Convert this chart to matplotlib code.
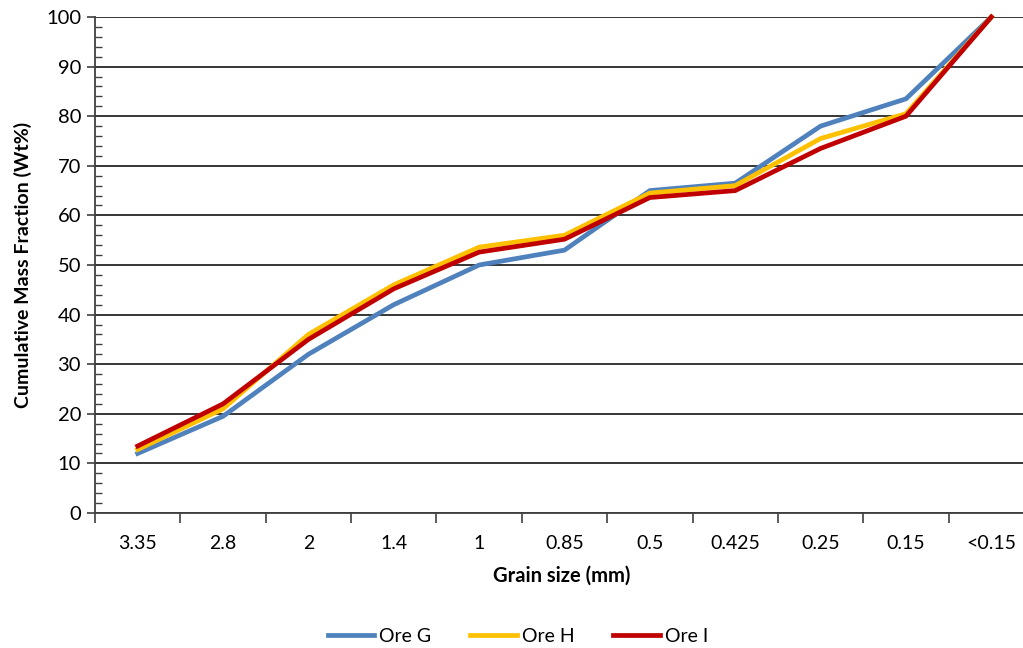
import matplotlib
matplotlib.use("Agg")
import matplotlib.pyplot as plt
from matplotlib.ticker import MultipleLocator, FixedLocator, NullFormatter

plt.rcParams['font.family'] = ['Lato', 'DejaVu Sans']

grain_sizes = ["3.35", "2.8", "2", "1.4", "1", "0.85", "0.5", "0.425", "0.25", "0.15", "<0.15"]
ore_g = [12.0, 19.5, 32.0, 42.0, 50.0, 53.0, 65.0, 66.5, 78.0, 83.5, 100.0]
ore_h = [12.8, 21.0, 36.0, 46.0, 53.6, 56.0, 64.5, 66.0, 75.5, 80.5, 100.0]
ore_i = [13.5, 22.0, 35.0, 45.2, 52.6, 55.2, 63.6, 65.0, 73.5, 80.0, 100.0]

series = [("Ore G", ore_g, "#4F81BD"),
          ("Ore H", ore_h, "#FFC000"),
          ("Ore I", ore_i, "#C00000")]

W, H = 1023, 648
fig = plt.figure(figsize=(W / 100, H / 100), dpi=100)
left, right, top, bottom = 95, 1034, 17, 513
ax = fig.add_axes([left / W, 1 - bottom / H, (right - left) / W, (bottom - top) / H])

x = list(range(len(grain_sizes)))
for name, vals, col in series:
    ax.plot(x, vals, color=col, lw=3.4, label=name, solid_joinstyle='miter', clip_on=False, zorder=3)

ax.set_xlim(-0.5, len(grain_sizes) - 0.5)
ax.set_ylim(0, 100)

# y axis: majors every 10 with outward ticks, minors every 2 inward
ax.yaxis.set_major_locator(MultipleLocator(10))
ax.yaxis.set_minor_locator(MultipleLocator(2))
ax.tick_params(axis='y', which='major', direction='out', length=6, width=1.2, color='#404040',
               labelsize=14.5, pad=4)
ax.tick_params(axis='y', which='minor', direction='in', length=5, width=1.0, color='#404040')
ax.grid(axis='y', which='major', color='#262626', lw=1.3, zorder=1)

# x axis: category labels centred in bins, ticks at bin boundaries
ax.xaxis.set_major_locator(FixedLocator(x))
ax.set_xticklabels(grain_sizes)
ax.tick_params(axis='x', which='major', length=0, labelsize=14, pad=16)
ax.xaxis.set_minor_locator(FixedLocator([i - 0.5 for i in range(len(grain_sizes) + 1)]))
ax.xaxis.set_minor_formatter(NullFormatter())
ax.tick_params(axis='x', which='minor', direction='out', length=7, width=1.2, color='#404040')

for s in ['top', 'right']:
    ax.spines[s].set_visible(False)
for s in ['left', 'bottom']:
    ax.spines[s].set_color('#404040')
    ax.spines[s].set_linewidth(1.3)

ax.set_ylabel("Cumulative Mass Fraction (Wt%)", fontsize=14, fontweight='bold', labelpad=10)
fig.text(562 / W, 1 - 576 / H, "Grain size (mm)", fontsize=14.5, fontweight='bold',
         ha='center', va='center')

fig.legend(loc='center', bbox_to_anchor=(518 / W, 1 - 636 / H), ncol=3, frameon=False,
           fontsize=14, handlelength=2.4, columnspacing=2.0, handletextpad=0.25)

fig.savefig("out.png", dpi=100)
